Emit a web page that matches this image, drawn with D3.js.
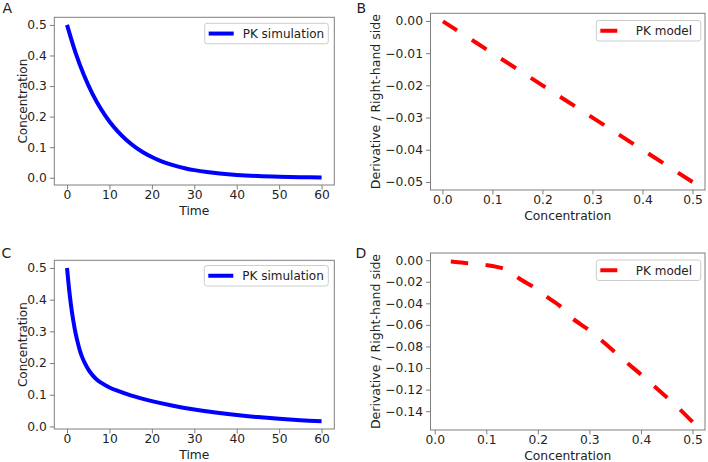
<!DOCTYPE html>
<html><head><meta charset="utf-8">
<script src="https://cdn.jsdelivr.net/npm/d3@7"></script>
<style>
html,body{margin:0;padding:0;background:#fff;}
svg{display:block;}
text{font-family:"DejaVu Sans",sans-serif;fill:#222;}
</style></head>
<body>
<script>
// ---- data ----
const timeA = [0,2,4,6,8,10,12,14,16,18,20,22,24,26,28,30,33,36,40,45,50,55,60];
const concA = [0.5,0.4094,0.3352,0.2744,0.2247,0.1839,0.1506,0.1233,0.1009,0.0826,0.0677,0.0554,0.0454,0.0371,0.0304,0.0249,0.0185,0.0137,0.0092,0.0056,0.0034,0.0020,0.0012];

const concB = [0.5,0.4,0.3,0.2,0.1,0.05,0.0012];
const rateB = [-0.05,-0.04,-0.03,-0.02,-0.01,-0.005,-0.00012];

const timeC = [0,0.5,1,1.5,2,2.5,3,3.5,4,5,6,7,8,10,12,15,20,25,30,35,40,45,50,55,60];
const concC = [0.5,0.432,0.376,0.332,0.295,0.266,0.241,0.221,0.205,0.180,0.162,0.148,0.138,0.123,0.112,0.098,0.080,0.0655,0.0536,0.0439,0.0359,0.0294,0.0241,0.0197,0.0161];

const concD = [0.5,0.477,0.452,0.426,0.4,0.374,0.349,0.323,0.297,0.268,0.246,0.219,0.193,0.164,0.15,0.134,0.101,0.068,0.036,0.016];
const rateD = [-0.15,-0.139,-0.128,-0.117,-0.106,-0.0956,-0.085,-0.0742,-0.0641,-0.0543,-0.0437,-0.0345,-0.0253,-0.017,-0.012,-0.0079,-0.0046,-0.003,-0.0015,-0.0008];

const ticksTime = [0,10,20,30,40,50,60];
const ticksConc = [0,0.1,0.2,0.3,0.4,0.5];
const ticksRateB = [0,-0.01,-0.02,-0.03,-0.04,-0.05];
const ticksRateD = [0,-0.02,-0.04,-0.06,-0.08,-0.10,-0.12,-0.14];

const svg = d3.select("body").append("svg").attr("width",708).attr("height",462);

function pad(ext){const m=(ext[1]-ext[0])*0.05;return [ext[0]-m,ext[1]+m];}
const fmtMinus = f => v => d3.format(f)(v).replace("-","\u2212");

function panel(o){
  const g = svg.append("g");
  const x = d3.scaleLinear().domain(pad(d3.extent(o.xs))).range([o.l,o.r]);
  const y = d3.scaleLinear().domain(pad(d3.extent(o.ys))).range([o.b,o.t]);
  const xa = g.append("g").attr("transform",`translate(0,${o.b})`)
    .call(d3.axisBottom(x).tickValues(o.xt).tickFormat(fmtMinus(o.xf)).tickSize(4.5).tickPadding(1));
  const ya = g.append("g").attr("transform",`translate(${o.l},0)`)
    .call(d3.axisLeft(y).tickValues(o.yt).tickFormat(fmtMinus(o.yf)).tickSize(4.5).tickPadding(3));
  [xa,ya].forEach(a=>{
    a.select(".domain").remove();
    a.selectAll(".tick line").attr("stroke","#7f7f7f").attr("stroke-width",1);
    a.selectAll(".tick text").attr("font-size",12.3).attr("fill","#222").attr("font-family","DejaVu Sans");
  });
  g.append("rect").attr("x",o.l).attr("y",o.t).attr("width",o.r-o.l).attr("height",o.b-o.t)
    .attr("fill","none").attr("stroke","#7f7f7f").attr("stroke-width",1);
  const pts = o.xs.map((v,i)=>[v,o.ys[i]]);
  const line = d3.line().x(d=>x(d[0])).y(d=>y(d[1])).curve(d3.curveCatmullRom.alpha(0.5));
  const p = g.append("path").attr("d",line(pts)).attr("fill","none")
    .attr("stroke",o.color).attr("stroke-width",4);
  if(o.dash) p.attr("stroke-dasharray","17.5,17.5");
  g.append("text").attr("x",(o.l+o.r)/2).attr("y",o.b+29.5).attr("text-anchor","middle")
    .attr("font-size",12.3).text(o.xlab);
  g.append("text").attr("transform",`translate(${o.ylx},${(o.t+o.b)/2}) rotate(-90)`)
    .attr("text-anchor","middle").attr("font-size",o.ylfs).text(o.ylab);
  g.append("text").attr("x",o.px).attr("y",o.py).attr("font-size",14).text(o.letter);
  const lg = g.append("g");
  lg.append("rect").attr("x",o.lgx).attr("y",o.lgy).attr("width",o.lgw).attr("height",20.5)
    .attr("rx",2.5).attr("fill","#fff").attr("fill-opacity",0.8).attr("stroke","#cccccc").attr("stroke-width",1);
  const ly = o.lgy+10.25;
  lg.append("line").attr("x1",o.lgx+4).attr("x2",o.lgx+(o.dash?21:29)).attr("y1",ly).attr("y2",ly)
    .attr("stroke",o.color).attr("stroke-width",4);
  lg.append("text").attr("x",o.lgx+(o.dash?39.5:38)).attr("y",ly+4.3).attr("font-size",12).text(o.leg);
}

panel({xs:timeA, ys:concA, l:54.3,r:334.3,t:17.3,b:185, xt:ticksTime, yt:ticksConc, xf:"d", yf:".1f",
  color:"#0000ff", dash:false, xlab:"Time", ylab:"Concentration", ylx:27, ylfs:12, letter:"A", px:2.5, py:13,
  lgx:204.7, lgy:23.3, lgw:123.6, leg:"PK simulation"});
panel({xs:concB, ys:rateB, l:430.5,r:705,t:13.3,b:190, xt:ticksConc, yt:ticksRateB, xf:".1f", yf:".2f",
  color:"#ff0000", dash:true, xlab:"Concentration", ylab:"Derivative / Right-hand side", ylx:379.5, ylfs:12.5, letter:"B", px:356.5, py:13,
  lgx:596.3, lgy:20.5, lgw:104.4, leg:"PK model"});
panel({xs:timeC, ys:concC, l:54.3,r:334.3,t:260.3,b:429, xt:ticksTime, yt:ticksConc, xf:"d", yf:".1f",
  color:"#0000ff", dash:false, xlab:"Time", ylab:"Concentration", ylx:27, ylfs:12, letter:"C", px:1.5, py:257.5,
  lgx:204.3, lgy:265.5, lgw:124, leg:"PK simulation"});
panel({xs:concD, ys:rateD, l:430.5,r:705,t:253,b:430, xt:ticksConc, yt:ticksRateD, xf:".1f", yf:".2f",
  color:"#ff0000", dash:true, xlab:"Concentration", ylab:"Derivative / Right-hand side", ylx:379.5, ylfs:12.5, letter:"D", px:355.5, py:258,
  lgx:596.3, lgy:260, lgw:104.4, leg:"PK model"});
</script>
</body></html>
